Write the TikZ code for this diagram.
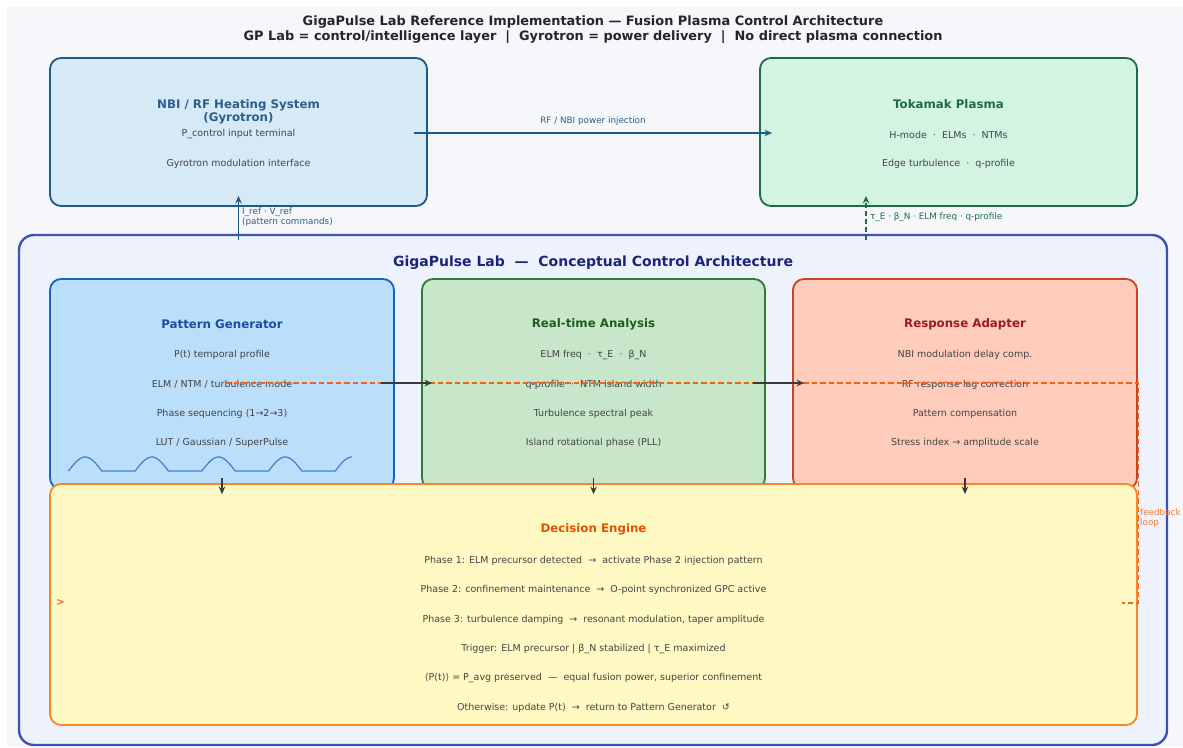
\documentclass[tikz,border=0pt]{standalone}
\usepackage{fontspec}
\setmainfont{DejaVu Sans}
\usetikzlibrary{arrows.meta,calc}
\definecolor{bgc}{HTML}{F5F7FA}
\definecolor{txt}{HTML}{444444}
\definecolor{nbiF}{HTML}{D6E9F7}
\definecolor{nbiD}{HTML}{1F5A85}
\definecolor{nbiT}{HTML}{2B5F8A}
\definecolor{tokF}{HTML}{D4F4E2}
\definecolor{tokD}{HTML}{1E6B48}
\definecolor{outF}{HTML}{EEF2FD}
\definecolor{outD}{HTML}{3F51B5}
\definecolor{outT}{HTML}{1A237E}
\definecolor{pgF}{HTML}{BBDEFB}
\definecolor{pgD}{HTML}{1565C0}
\definecolor{pgT}{HTML}{1A4FA0}
\definecolor{raF}{HTML}{C8E6C9}
\definecolor{raD}{HTML}{2E7D32}
\definecolor{raT}{HTML}{1B5E20}
\definecolor{adF}{HTML}{FFCCBC}
\definecolor{adD}{HTML}{CC4120}
\definecolor{adT}{HTML}{9B1C1C}
\definecolor{deF}{HTML}{FFF9C4}
\definecolor{deD}{HTML}{F5862A}
\definecolor{deT}{HTML}{E65100}
\definecolor{fbc}{HTML}{F26418}
\definecolor{arr}{HTML}{3A3A3A}
\tikzset{
  box/.style={draw, rounded corners=11pt, line width=1.8pt, inner sep=0pt},
  body/.style={text=txt, font=\fontsize{9.5}{11}\selectfont, inner sep=0pt, yshift=-1.5pt},
  btitle/.style={font=\fontsize{11.8}{13}\selectfont\bfseries, inner sep=0pt, align=center, yshift=-1pt},
  small/.style={font=\fontsize{8.8}{10}\selectfont, inner sep=0pt, align=left, anchor=west},
  darr/.style={draw=arr, line width=1.6pt, -{Stealth[length=7.5pt,width=6.5pt]}},
  marr/.style={line width=1.8pt, -{Stealth[length=7.5pt,width=6.5pt]}},
}
\begin{document}
\begin{tikzpicture}[x=1pt,y=-1pt]
\useasboundingbox (0,0) rectangle (1183,747);
\fill[white] (0,0) rectangle (1183,747);
\fill[bgc] (7,7) rectangle (1183,747);
% title
\node[font=\fontsize{12.9}{15.5}\selectfont\bfseries, text=black!85, align=center, inner sep=0pt] (title) at (593,29.5)
 {GigaPulse Lab Reference Implementation — Fusion Plasma Control Architecture\\GP Lab = control/intelligence layer~~|~~Gyrotron = power delivery~~|~~No direct plasma connection};
% top boxes
\node[box, draw=nbiD, fill=nbiF, minimum width=377pt, minimum height=148pt] (nbi) at (238.5,132) {};
\node[btitle, text=nbiT] (nbit) at (238.5,110.5) {NBI / RF Heating System\\(Gyrotron)};
\node[body] (nbi1) at (238.5,133) {P\_control input terminal};
\node[body] (nbi2) at (238.5,162) {Gyrotron modulation interface};
\node[box, draw=tokD, fill=tokF, minimum width=377pt, minimum height=148pt] (tok) at (948.5,132) {};
\node[btitle, text=tokD] (tokt) at (948.5,103) {Tokamak Plasma};
\node[body] (tok1) at (948.5,133) {H-mode~~·~~ELMs~~·~~NTMs};
\node[body] (tok2) at (948.5,162) {Edge turbulence~~·~~q-profile};
\draw[marr, draw=nbiD] ($(nbi.east)+(-14,1)$) -- ($(tok.west)+(13,1)$);
\node[small, text=nbiT, anchor=center] (inj) at (593,121) {RF / NBI power injection};
% outer box
\node[box, draw=outD, fill=outF, rounded corners=15pt, line width=2.4pt, minimum width=1148pt, minimum height=510pt] (gp) at (593,490) {};
\node[btitle, text=outT, font=\fontsize{14}{16}\selectfont\bfseries] (gpt) at (593,262) {GigaPulse Lab~~—~~Conceptual Control Architecture};
\coordinate (up1) at (238.5,240);
\coordinate (up2) at (866,240);
\draw[marr, draw=nbiD] (up1) -- ($(nbi.south)+(0,-11)$);
\node[small, text=nbiT] (cmd) at (242,217) {I\_ref · V\_ref\\(pattern commands)};
\draw[marr, draw=tokD, dash pattern=on 5pt off 3pt] (up2) -- ($(nbi.south -| up2)+(0,-11)$);
\node[small, text=tokD] (meas) at (870,217) {τ\_E · β\_N · ELM freq · q-profile};
% module boxes
\node[box, draw=pgD, fill=pgF, minimum width=344pt, minimum height=210pt] (pg) at (222,384) {};
\node[btitle, text=pgT] (pgt) at (222,323) {Pattern Generator};
\node[body] (pg1) at (222,353) {P(t) temporal profile};
\node[body] (pg2) at (222,383) {ELM / NTM / turbulence mode};
\node[body] (pg3) at (222,412) {Phase sequencing (1→2→3)};
\node[body] (pg4) at (222,441) {LUT / Gaussian / SuperPulse};
\draw[pgD!80, line width=1.3pt]
  (68.5,471)
  \foreach \k in {0,1,2,3} {
    -- plot[domain=0:1, samples=16, smooth] ({68.5+66.7*\k+33.3*\x}, {471-14*sin(180*\x)})
    -- ({68.5+66.7*\k+66.7},471)
  }
  -- plot[domain=0:0.5, samples=9, smooth] ({335.3+33.3*\x}, {471-14*sin(180*\x)});
\node[box, draw=raD, fill=raF, minimum width=343pt, minimum height=210pt] (rta) at (593.5,384) {};
\node[btitle, text=raT] (rtat) at (593.5,323) {Real-time Analysis};
\node[body] (rta1) at (593.5,353) {ELM freq~~·~~τ\_E~~·~~β\_N};
\node[body] (rta2) at (593.5,383) {q-profile~~·~~NTM island width};
\node[body] (rta3) at (593.5,412) {Turbulence spectral peak};
\node[body] (rta4) at (593.5,441) {Island rotational phase (PLL)};
\node[box, draw=adD, fill=adF, minimum width=344pt, minimum height=210pt] (ra) at (965,384) {};
\node[btitle, text=adT] (rat) at (965,323) {Response Adapter};
\node[body] (ra1) at (965,353) {NBI modulation delay comp.};
\node[body] (ra2) at (965,383) {RF response lag correction};
\node[body] (ra3) at (965,412) {Pattern compensation};
\node[body] (ra4) at (965,441) {Stress index → amplitude scale};
% decision engine
\node[box, draw=deD, fill=deF, minimum width=1087pt, minimum height=241pt] (de) at (593.5,604.5) {};
\node[btitle, text=deT] (det) at (593.5,528) {Decision Engine};
\node[body] (de1) at (593.5,559) {Phase 1: ELM precursor detected~~→~~activate Phase 2 injection pattern};
\node[body] (de2) at (593.5,588) {Phase 2: confinement maintenance~~→~~O-point synchronized GPC active};
\node[body] (de3) at (593.5,618) {Phase 3: turbulence damping~~→~~resonant modulation, taper amplitude};
\node[body] (de4) at (593.5,647) {Trigger: ELM precursor | β\_N stabilized | τ\_E maximized};
\node[body] (de5) at (593.5,677) {⟨P(t)⟩ = P\_avg preserved~~—~~equal fusion power, superior confinement};
\node[body] (de6) at (593.5,706) {Otherwise: update P(t)~~→~~return to Pattern Generator~~↺};
% feedback loop
\coordinate (fb0) at (225,383);
\coordinate (fb1) at (1138.5,383);
\coordinate (fb2) at (1138.5,603);
\coordinate (fb3) at (1122,603);
\draw[fbc, line width=1.7pt, dash pattern=on 5.5pt off 3pt] (fb0) -- (fb1) -- (fb2) -- (fb3);
\node[small, text=fbc!85] (fbl) at (1140,518) {feedback\\loop};
\node[font=\fontsize{10}{12}\selectfont\bfseries, text=fbc, inner sep=0pt] (fbm) at (60.5,603) {>};
% arrows
\draw[darr] ($(pg.east)+(-14,-1)$) -- ($(rta.west)+(11,-1)$);
\draw[darr] ($(rta.east)+(-13,-1)$) -- ($(ra.west)+(12,-1)$);
\draw[darr] ($(pg.south)+(0,-12)$) -- ($(pg.south |- de.north)+(0,11)$);
\draw[darr] ($(rta.south)+(0,-12)$) -- ($(rta.south |- de.north)+(0,11)$);
\draw[darr] ($(ra.south)+(0,-12)$) -- ($(ra.south |- de.north)+(0,11)$);
\end{tikzpicture}
\end{document}
